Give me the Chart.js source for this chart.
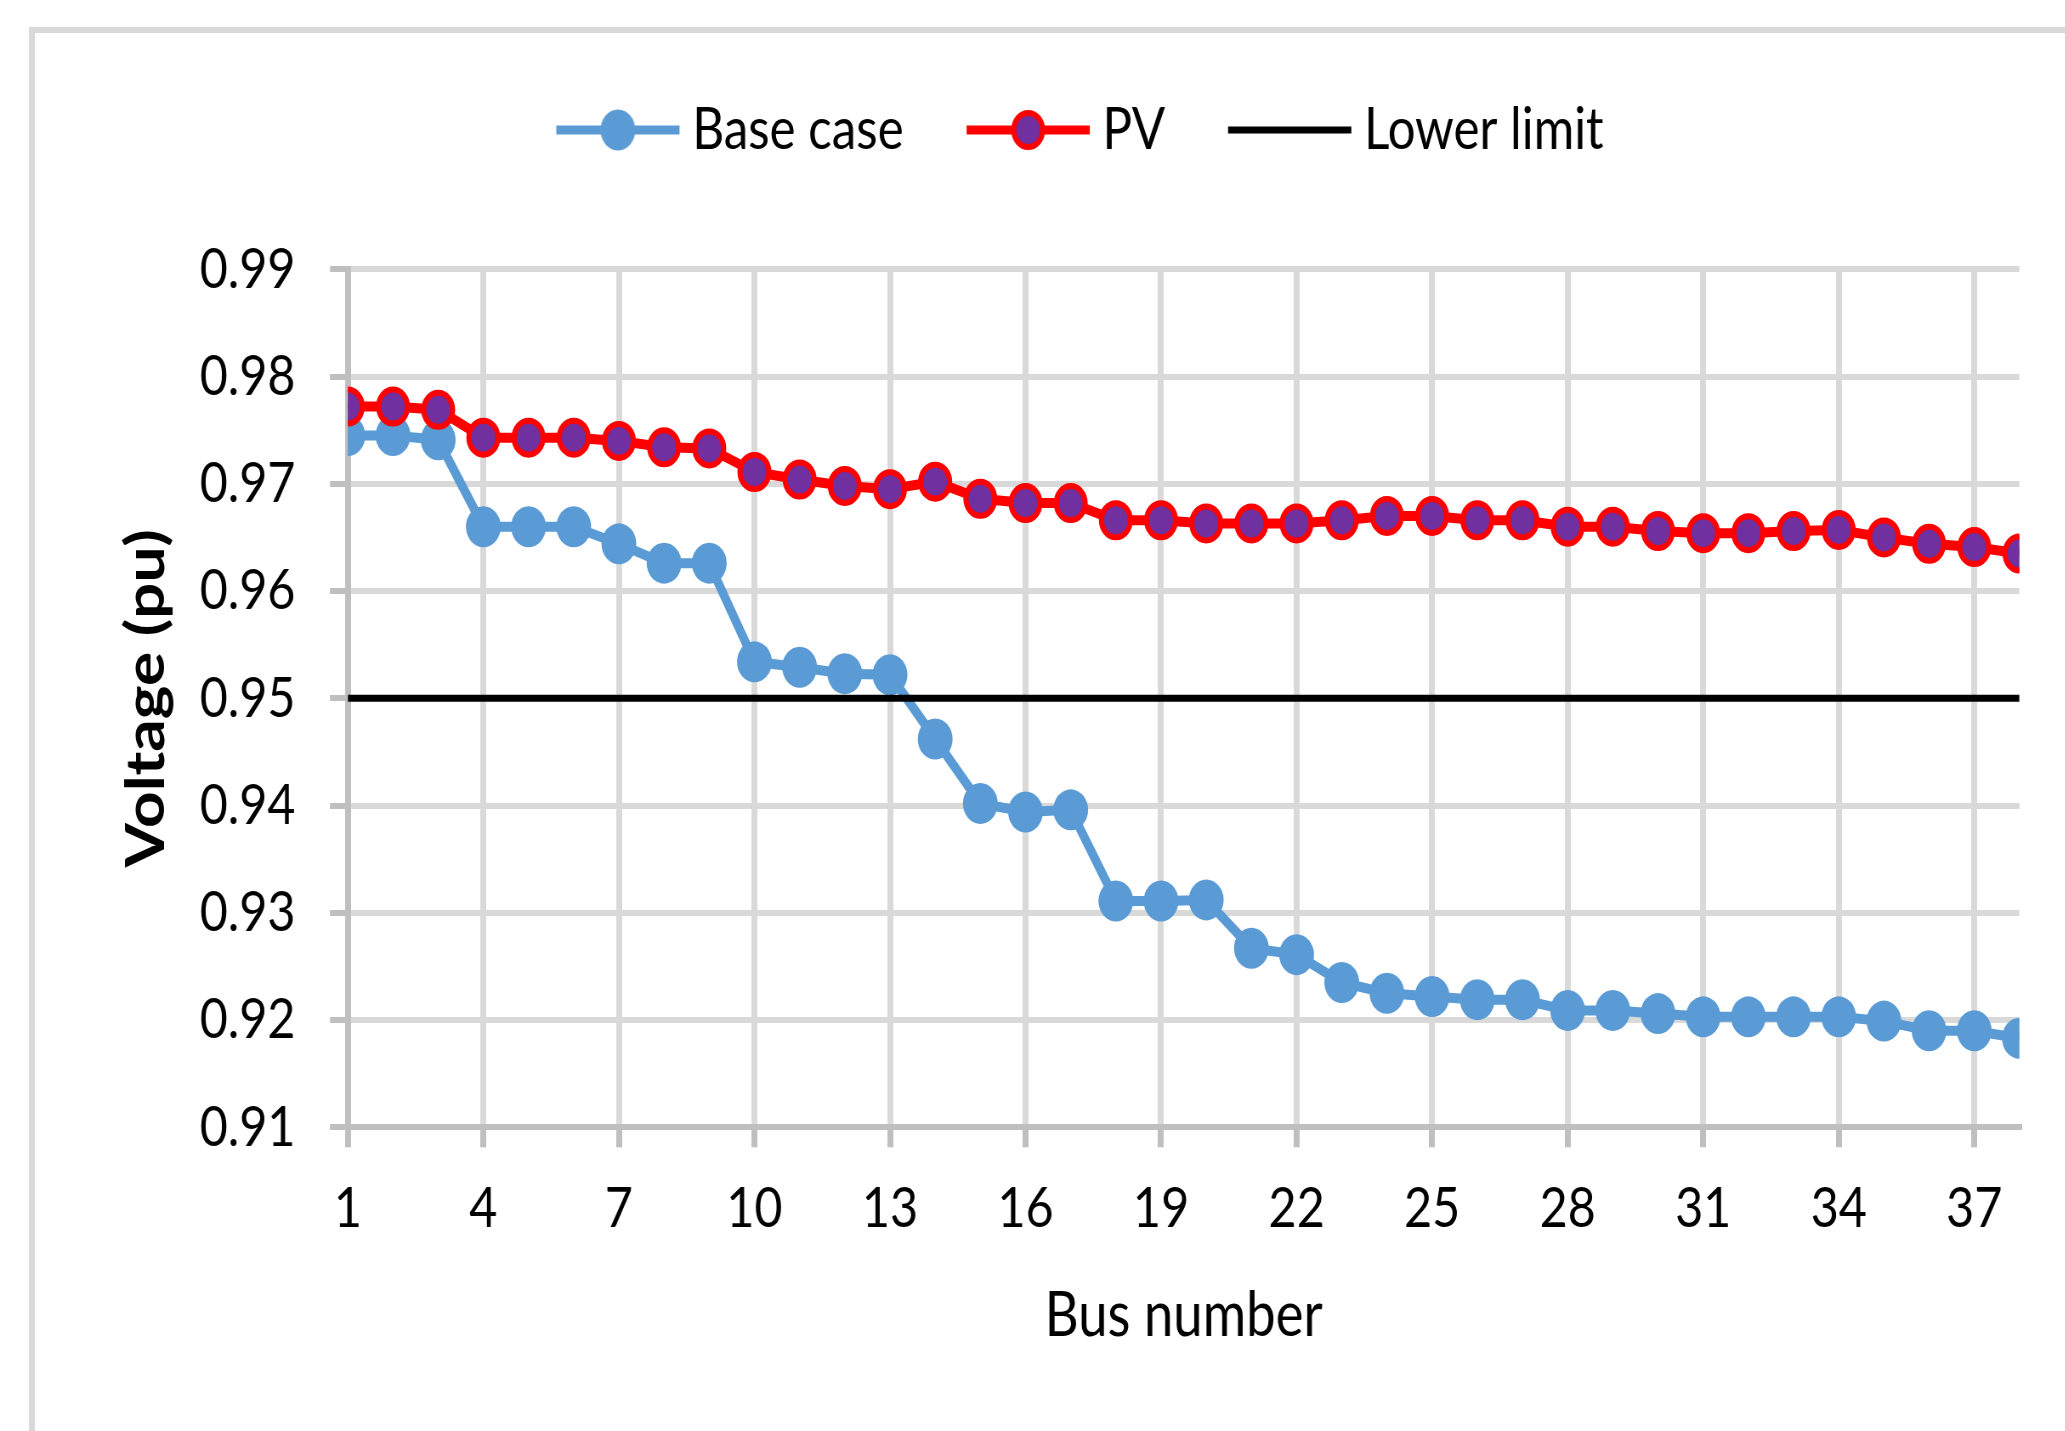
<!DOCTYPE html>
<html>
<head>
<meta charset="utf-8">
<title>Bus voltage profile</title>
<script src="https://cdn.jsdelivr.net/npm/chart.js@4.4.1/dist/chart.umd.min.js"></script>
<style>
  html, body { margin: 0; padding: 0; background: #ffffff; width: 2065px; height: 1431px; overflow: hidden; }
  /* light grey chart frame (top and left edges) */
  #frame { position: absolute; left: 29px; top: 27px; width: 2200px; height: 1600px;
           border-left: 6px solid #d9d9d9; border-top: 6px solid #d9d9d9; box-sizing: border-box; }
  /* the chart is laid out wide and condensed horizontally */
  #squeeze { position: absolute; left: 0; top: 0; width: 2430px; height: 1431px;
             transform: scaleX(0.85); transform-origin: 0 0; }
</style>
</head>
<body>
<div id="frame"></div>
<div id="squeeze"><canvas id="chart" width="2430" height="1431"></canvas></div>
<script>
// ---- data -------------------------------------------------------------
const busNumbers = [1, 2, 3, 4, 5, 6, 7, 8, 9, 10, 11, 12, 13, 14, 15, 16, 17, 18, 19,
                    20, 21, 22, 23, 24, 25, 26, 27, 28, 29, 30, 31, 32, 33, 34, 35, 36, 37, 38];

const baseCase = [0.9745, 0.9745, 0.9741, 0.9660, 0.9660, 0.9660, 0.9644, 0.9626, 0.9626, 0.9534,
                  0.9529, 0.9523, 0.9522, 0.9462, 0.9402, 0.9394, 0.9396, 0.9311, 0.9311, 0.9312,
                  0.9267, 0.9261, 0.9235, 0.9225, 0.9222, 0.9219, 0.9219, 0.9209, 0.9209, 0.9206,
                  0.9203, 0.9203, 0.9203, 0.9203, 0.9199, 0.9190, 0.9190, 0.9183];

const pvCase = [0.9772, 0.9772, 0.9769, 0.9743, 0.9743, 0.9743, 0.9740, 0.9734, 0.9733, 0.9711,
                0.9704, 0.9698, 0.9695, 0.9702, 0.9686, 0.9682, 0.9682, 0.9666, 0.9666, 0.9663,
                0.9663, 0.9663, 0.9666, 0.9670, 0.9670, 0.9666, 0.9666, 0.9660, 0.9660, 0.9656,
                0.9654, 0.9654, 0.9656, 0.9657, 0.9650, 0.9644, 0.9641, 0.9635];

const lowerLimit = [0.95, 0.95, 0.95, 0.95, 0.95, 0.95, 0.95, 0.95, 0.95, 0.95,
                    0.95, 0.95, 0.95, 0.95, 0.95, 0.95, 0.95, 0.95, 0.95, 0.95,
                    0.95, 0.95, 0.95, 0.95, 0.95, 0.95, 0.95, 0.95, 0.95, 0.95,
                    0.95, 0.95, 0.95, 0.95, 0.95, 0.95, 0.95, 0.95];

const seriesNames = ['Base case', 'PV', 'Lower limit'];
const xTickValues = [1, 4, 7, 10, 13, 16, 19, 22, 25, 28, 31, 34, 37];
const yMin = 0.91, yMax = 0.99, yStep = 0.01;
const xTitle = 'Bus number';
const yTitle = 'Voltage (pu)';

// ---- styling ----------------------------------------------------------
const BLUE = '#5B9BD5';
const RED = '#FF0000';
const PURPLE = '#7030A0';
const GRID = '#d9d9d9';
const AXIS = '#bfbfbf';

Chart.defaults.font.family = "Lato, 'Open Sans', sans-serif";
Chart.defaults.color = '#000000';

const toPoints = values => busNumbers.map((b, i) => ({ x: b, y: values[i] }));

// legend symbol: a short line segment with the series marker in the middle
function legendSymbol(lineColor, lineWidth, marker) {
  const c = document.createElement('canvas');
  c.width = 147; c.height = 48;
  const g = c.getContext('2d');
  g.strokeStyle = lineColor;
  g.lineWidth = lineWidth;
  g.beginPath(); g.moveTo(1, 24); g.lineTo(146, 24); g.stroke();
  if (marker) {
    g.beginPath();
    g.arc(73.5, 24, marker.radius, 0, Math.PI * 2);
    g.fillStyle = marker.fill;
    g.fill();
    if (marker.borderWidth) {
      g.lineWidth = marker.borderWidth;
      g.strokeStyle = marker.border;
      g.stroke();
    }
  }
  return c;
}

const legendSymbols = [
  legendSymbol(BLUE, 9, { radius: 20.5, fill: BLUE }),
  legendSymbol(RED, 9, { radius: 17, fill: PURPLE, border: RED, borderWidth: 6 }),
  legendSymbol('#000000', 7, null)
];

new Chart(document.getElementById('chart'), {
  type: 'line',
  data: {
    datasets: [
      {
        label: seriesNames[0], data: toPoints(baseCase), xAxisID: 'x', yAxisID: 'y',
        borderColor: BLUE, backgroundColor: BLUE, borderWidth: 10, tension: 0,
        pointRadius: 20.5, pointBorderWidth: 0, pointBackgroundColor: BLUE, order: 2
      },
      {
        label: seriesNames[1], data: toPoints(pvCase), xAxisID: 'x', yAxisID: 'y',
        borderColor: RED, backgroundColor: PURPLE, borderWidth: 10, tension: 0,
        pointRadius: 17, pointBorderWidth: 6, pointBorderColor: RED, pointBackgroundColor: PURPLE, order: 1
      },
      {
        label: seriesNames[2], data: toPoints(lowerLimit), xAxisID: 'x', yAxisID: 'y',
        borderColor: '#000000', borderWidth: 7, tension: 0, pointRadius: 0, order: 0
      }
    ]
  },
  options: {
    responsive: false,
    animation: false,
    events: [],
    layout: { padding: { left: 179.2, right: 54.2, top: 13, bottom: 0 } },
    plugins: {
      tooltip: { enabled: false },
      legend: {
        position: 'top',
        align: 'center',
        labels: {
          usePointStyle: true,
          pointStyleWidth: 117,
          padding: 88,
          font: { size: 58 },
          color: '#000000',
          generateLabels: chart => chart.data.datasets.map((ds, i) => ({
            text: ds.label,
            datasetIndex: i,
            pointStyle: legendSymbols[i],
            fillStyle: 'rgba(0,0,0,0)',
            strokeStyle: 'rgba(0,0,0,0)',
            lineWidth: 0,
            hidden: false,
            fontColor: '#000000'
          }))
        }
      }
    },
    scales: {
      x: {
        type: 'linear',
        position: 'bottom',
        min: busNumbers[0],
        max: busNumbers[busNumbers.length - 1],
        bounds: 'data',
        afterBuildTicks: axis => { axis.ticks = xTickValues.map(v => ({ value: v })); },
        afterFit: axis => { axis.height = 1431 - 1127.3; },
        grid: { color: GRID, lineWidth: 7, tickLength: 20, tickColor: AXIS, tickWidth: 7 },
        border: { color: AXIS, width: 6 },
        ticks: { font: { size: 57 }, color: '#000000', padding: 27.5, maxRotation: 0, autoSkip: false,
                 callback: v => String(v) },
        title: { display: true, text: xTitle, color: '#000000', font: { size: 62 },
                 padding: { top: 0, bottom: 78 } }
      },
      y: {
        type: 'linear',
        position: 'left',
        min: yMin,
        max: yMax,
        afterFit: axis => { axis.width = 230; },
        grid: { color: GRID, lineWidth: 6, tickLength: 21, tickColor: AXIS, tickWidth: 6 },
        border: { color: AXIS, width: 7 },
        ticks: { stepSize: yStep, font: { size: 57 }, color: '#000000', padding: 40.6,
                 callback: v => Number(v).toFixed(2) },
        title: { display: true, text: yTitle, color: '#000000', font: { size: 64, weight: 'bold' },
                 padding: { top: -45, bottom: 0 } }
      },
      // empty band between the legend and the plot area
      gapTop: {
        type: 'linear',
        position: 'top',
        display: true,
        grid: { display: false, drawTicks: false },
        border: { display: false },
        ticks: { display: false },
        afterFit: axis => { axis.height = 100.3; }
      }
    }
  }
});
</script>
</body>
</html>
